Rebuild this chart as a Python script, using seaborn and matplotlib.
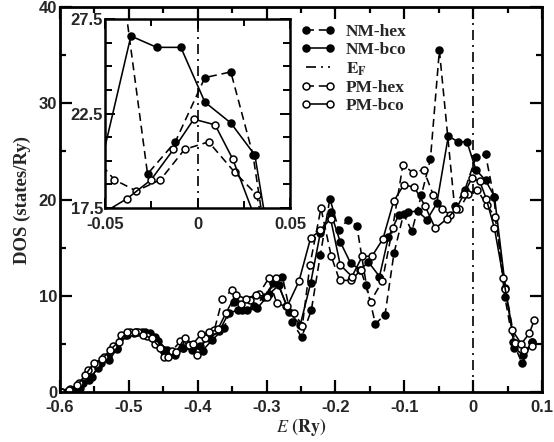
import numpy as np
import pandas as pd
import matplotlib
matplotlib.use("Agg")
import matplotlib.pyplot as plt
from matplotlib.ticker import MultipleLocator, FixedLocator, FixedFormatter
from matplotlib.font_manager import FontProperties
import seaborn as sns

# ---------------- data ----------------
nm_hex_E = [-0.598, -0.585, -0.571, -0.558, -0.545, -0.531, -0.517, -0.503, -0.490, -0.476,
            -0.462, -0.449, -0.435, -0.421, -0.407, -0.393, -0.379, -0.362, -0.348, -0.335,
            -0.318, -0.304, -0.290, -0.277, -0.263, -0.249, -0.235, -0.222, -0.208, -0.195,
            -0.182, -0.169, -0.155, -0.142, -0.128, -0.115, -0.101, -0.089, -0.075, -0.062,
            -0.049, -0.027, -0.012, 0.004, 0.018, 0.030, 0.046, 0.058, 0.071, 0.085]
nm_hex_D = [0.0, 0.1, 0.4, 1.2, 2.5, 3.6, 4.6, 5.9, 6.2, 6.2,
            5.7, 4.4, 4.1, 4.6, 4.7, 4.3, 5.4, 6.6, 9.4, 8.5,
            8.9, 9.9, 11.3, 12.0, 7.3, 5.7, 8.5, 14.2, 20.1, 16.8,
            17.9, 17.3, 11.1, 7.1, 8.0, 14.4, 18.5, 16.7, 20.5, 24.2,
            35.5, 19.3, 21.0, 24.4, 24.7, 20.3, 9.9, 5.2, 3.0, 5.2]

nm_bco_E = [-0.600, -0.589, -0.577, -0.566, -0.554, -0.541, -0.529, -0.517, -0.505, -0.493,
            -0.481, -0.469, -0.457, -0.445, -0.433, -0.421, -0.409, -0.396, -0.383, -0.369,
            -0.355, -0.342, -0.328, -0.3135, -0.296, -0.282, -0.2677, -0.251, -0.236, -0.222,
            -0.207, -0.193, -0.178, -0.164, -0.152, -0.136, -0.123, -0.108, -0.094, -0.0807,
            -0.067, -0.0527, -0.036, -0.022, -0.009, 0.004, 0.018, 0.031, 0.047, 0.060,
            0.073, 0.086]
nm_bco_D = [0.0, 0.1, 0.3, 0.9, 1.6, 3.0, 3.3, 4.5, 5.9, 6.1,
            6.2, 6.1, 5.3, 4.4, 3.8, 4.6, 4.4, 4.8, 5.6, 6.3,
            8.2, 8.5, 8.5, 8.7, 10.2, 11.1, 8.3, 7.0, 11.3, 16.5,
            18.7, 15.6, 13.4, 12.7, 13.5, 12.0, 16.1, 18.4, 18.7, 18.8,
            17.9, 19.6, 26.6, 26.0, 26.0, 23.1, 22.0, 20.3, 10.8, 4.6,
            3.8, 5.2]

pm_hex_E = [-0.597, -0.586, -0.572, -0.560, -0.548, -0.536, -0.523, -0.511, -0.499, -0.487,
            -0.474, -0.462, -0.449, -0.437, -0.425, -0.413, -0.401, -0.389, -0.376, -0.364,
            -0.350, -0.337, -0.324, -0.311, -0.297, -0.285, -0.272, -0.260, -0.248, -0.237,
            -0.221, -0.206, -0.194, -0.177, -0.163, -0.149, -0.132, -0.117, -0.102, -0.0875,
            -0.072, -0.058, -0.045, -0.033, -0.020, -0.007, 0.006, 0.020, 0.032, 0.047,
            0.061, 0.074, 0.085]
pm_hex_D = [0.0, 0.3, 0.9, 2.3, 2.9, 3.6, 4.8, 5.9, 6.2, 6.2,
            5.8, 5.0, 3.6, 4.3, 5.3, 4.9, 3.8, 5.6, 6.4, 9.7,
            10.6, 9.1, 9.6, 10.2, 11.8, 9.2, 8.9, 8.2, 6.9, 13.2,
            19.1, 14.1, 11.6, 11.6, 12.7, 9.4, 11.5, 17.0, 23.6, 22.8,
            23.1, 20.5, 19.0, 18.4, 19.0, 20.6, 21.0, 19.4, 18.2, 10.7,
            5.05, 4.4, 4.8]

pm_bco_E = [-0.599, -0.587, -0.575, -0.563, -0.551, -0.539, -0.527, -0.515, -0.503, -0.491,
            -0.479, -0.467, -0.455, -0.443, -0.431, -0.419, -0.407, -0.395, -0.383, -0.371,
            -0.359, -0.345, -0.330, -0.315, -0.300, -0.287, -0.270, -0.253, -0.236, -0.222,
            -0.207, -0.193, -0.176, -0.161, -0.147, -0.131, -0.1155, -0.101, -0.0855, -0.0696,
            -0.055, -0.038, -0.025, -0.013, -0.002, 0.0095, 0.019, 0.031, 0.044, 0.057,
            0.070, 0.0816, 0.089]
pm_bco_D = [0.0, 0.2, 0.7, 1.8, 3.0, 3.4, 4.4, 5.2, 6.2, 6.2,
            5.9, 5.6, 4.6, 3.6, 4.2, 5.6, 5.0, 6.0, 6.2, 6.5,
            8.2, 10.1, 9.7, 10.1, 9.9, 11.8, 8.9, 11.5, 16.0, 16.8,
            18.0, 13.2, 12.0, 14.1, 14.1, 15.9, 19.8, 21.5, 21.3, 19.3,
            17.0, 18.0, 19.0, 20.6, 22.2, 21.9, 20.1, 17.0, 11.8, 6.4,
            5.0, 6.1, 7.5]

series_names = ["NM-hex", "NM-bco", "PM-hex", "PM-bco"]
ef_label = r"$\mathbf{E_F}$"
main_xticks = [-0.6, -0.5, -0.4, -0.3, -0.2, -0.1, 0.0, 0.1]
main_xlabels = ["-0.6", "-0.5", "-0.4", "-0.3", "-0.2", "-0.1", "0", "0.1"]
main_yticks = [0, 10, 20, 30, 40]
main_ylabels = ["0", "10", "20", "30", "40"]
ins_xticks = [-0.05, 0.0, 0.05]
ins_xlabels = ["-0.05", "0", "0.05"]
ins_yticks = [17.5, 22.5, 27.5]
ins_ylabels = ["17.5", "22.5", "27.5"]

# ---------------- style ----------------
sns.set_style("ticks")
plt.rcParams["font.family"] = ["Liberation Sans", "DejaVu Sans"]
plt.rcParams["mathtext.fontset"] = "stix"
plt.rcParams["axes.unicode_minus"] = False

data = {
    "NM-hex": (nm_hex_E, nm_hex_D, True, True),
    "NM-bco": (nm_bco_E, nm_bco_D, True, False),
    "PM-hex": (pm_hex_E, pm_hex_D, False, True),
    "PM-bco": (pm_bco_E, pm_bco_D, False, False),
}

fig = plt.figure(figsize=(5.54, 4.42), dpi=100)
ax = fig.add_axes([0.1083, 0.1131, 0.870, 0.871])
axin = fig.add_axes([0.1895, 0.5294, 0.334, 0.4276])
axin.set_zorder(5)
axin.set_facecolor("white")

def draw(a):
    handles = {}
    for name in series_names:
        E, D, filled, dashed = data[name]
        df = pd.DataFrame({"E": E, "DOS": D})
        n0 = len(a.lines)
        sns.lineplot(data=df, x="E", y="DOS", ax=a, color="black", lw=1.15,
                     linestyle=(0, (5, 3)) if dashed else "-",
                     marker="o", markersize=5.0,
                     markerfacecolor="black" if filled else "white",
                     markeredgecolor="black", markeredgewidth=1.1,
                     estimator=None, sort=False, legend=False)
        handles[name] = a.lines[n0]
    ef = a.axvline(0.0, color="black", lw=1.2, linestyle=(0, (6, 3, 1.2, 3)), zorder=1)
    return handles, ef

h, ef = draw(ax)
draw(axin)

tickfont = FontProperties(family="Liberation Sans", weight="bold", size=12)

# main axes
ax.set_xlim(-0.6, 0.1)
ax.set_ylim(0, 40)
ax.xaxis.set_major_locator(FixedLocator(main_xticks))
ax.xaxis.set_major_formatter(FixedFormatter(main_xlabels))
ax.xaxis.set_minor_locator(MultipleLocator(0.05))
ax.yaxis.set_major_locator(FixedLocator(main_yticks))
ax.yaxis.set_major_formatter(FixedFormatter(main_ylabels))
ax.yaxis.set_minor_locator(MultipleLocator(5))
ax.tick_params(which="both", direction="in", top=True, right=True, width=1.6, color="black")
ax.tick_params(axis="x", which="major", length=8.5, pad=5.5)
ax.tick_params(axis="y", which="major", length=8.5, pad=2)
ax.tick_params(which="minor", length=4)
for lab in ax.get_xticklabels() + ax.get_yticklabels():
    lab.set_fontproperties(tickfont)
for s in ax.spines.values():
    s.set_linewidth(2.0)
    s.set_color("black")
ax.set_xlabel(r"$\mathit{E}\ \mathbf{(Ry)}$", fontsize=13, labelpad=1)
ax.set_ylabel("DOS (states/Ry)", fontsize=13.5, fontweight="bold",
              family="Liberation Serif", labelpad=6)

# inset axes
axin.set_xlim(-0.05, 0.05)
axin.set_ylim(17.5, 27.5)
axin.xaxis.set_major_locator(FixedLocator(ins_xticks))
axin.xaxis.set_major_formatter(FixedFormatter(ins_xlabels))
axin.xaxis.set_minor_locator(MultipleLocator(0.025))
axin.yaxis.set_major_locator(FixedLocator(ins_yticks))
axin.yaxis.set_major_formatter(FixedFormatter(ins_ylabels))
axin.yaxis.set_minor_locator(MultipleLocator(1.25))
axin.tick_params(which="both", direction="in", top=True, right=True, width=1.4, color="black")
axin.tick_params(axis="x", which="major", length=7, pad=6.5)
axin.tick_params(axis="y", which="major", length=7, pad=1.5)
axin.tick_params(which="minor", length=5)
for lab in axin.get_xticklabels() + axin.get_yticklabels():
    lab.set_fontproperties(tickfont)
for s in axin.spines.values():
    s.set_linewidth(1.8)
    s.set_color("black")
axin.set_xlabel("")
axin.set_ylabel("")

# legend
handles = [h["NM-hex"], h["NM-bco"], ef, h["PM-hex"], h["PM-bco"]]
labels = ["NM-hex", "NM-bco", ef_label, "PM-hex", "PM-bco"]
leg = fig.legend(handles, labels, loc="upper left", bbox_to_anchor=(0.530, 0.962),
                 frameon=False, numpoints=2, handlelength=2.0, handletextpad=0.6,
                 labelspacing=0.12, borderaxespad=0,
                 prop=FontProperties(family="Liberation Serif", weight="bold", size=12.5))
leg.set_zorder(10)

fig.savefig("out.png", dpi=100)
